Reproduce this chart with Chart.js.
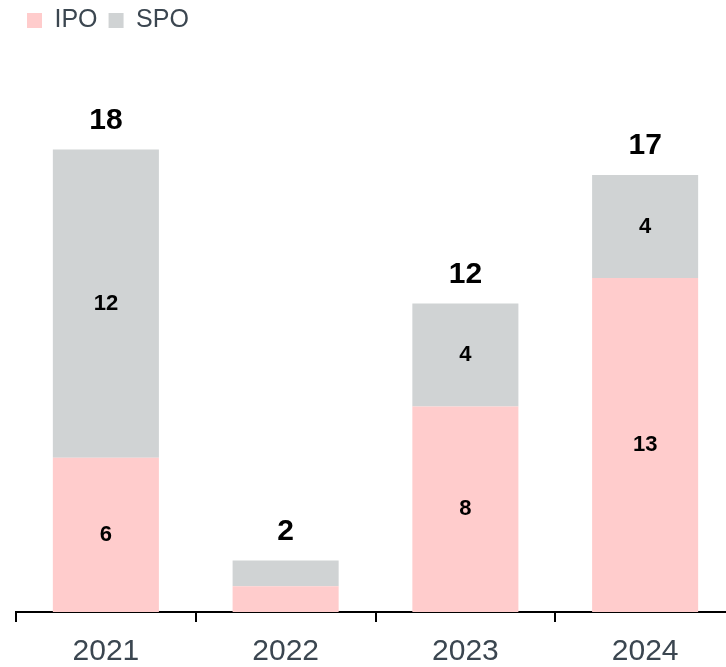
<!DOCTYPE html>
<html>
<head>
<meta charset="utf-8">
<script src="https://cdn.jsdelivr.net/npm/chart.js@4/dist/chart.umd.min.js"></script>
<style>
  html, body { margin: 0; padding: 0; background: #fff; overflow: hidden; }
  #wrap { width: 740px; height: 667px; position: relative; }
</style>
</head>
<body>
<div id="wrap"><canvas id="c"></canvas></div>
<script>
const categories = ['2021', '2022', '2023', '2024'];
const ipoValues = [6, 1, 8, 13];
const spoValues = [12, 1, 4, 4];
const totals = [18, 2, 12, 17];

const legendSpacer = {
  id: 'legendSpacer',
  beforeInit(chart) {
    const origFit = chart.legend.fit;
    chart.legend.fit = function () {
      origFit.bind(chart.legend)();
      this.height += 55;
    };
  }
};

const labelPlugin = {
  id: 'labels',
  afterDatasetsDraw(chart) {
    const ctx = chart.ctx;
    ctx.save();
    ctx.textAlign = 'center';
    ctx.textBaseline = 'middle';
    ctx.fillStyle = '#000';
    ctx.font = 'bold 22px "Liberation Sans", Arial, sans-serif';
    chart.data.datasets.forEach((ds, di) => {
      const meta = chart.getDatasetMeta(di);
      meta.data.forEach((el, i) => {
        const v = ds.data[i];
        if (v >= 2) {
          ctx.fillText(String(v), el.x, (el.y + el.base) / 2);
        }
      });
    });
    const last = chart.getDatasetMeta(chart.data.datasets.length - 1);
    ctx.font = 'bold 30px "Liberation Sans", Arial, sans-serif';
    last.data.forEach((el, i) => {
      ctx.fillText(String(totals[i]), el.x, el.y - 29);
    });
    ctx.restore();
  }
};

new Chart(document.getElementById('c'), {
  type: 'bar',
  data: {
    labels: categories,
    datasets: [
      { label: 'IPO', data: ipoValues, backgroundColor: '#FFCCCC', borderWidth: 0 },
      { label: 'SPO', data: spoValues, backgroundColor: '#D0D3D4', borderWidth: 0 }
    ]
  },
  options: {
    responsive: true,
    maintainAspectRatio: false,
    animation: false,
    layout: { padding: { left: 16, right: 5, top: -3, bottom: -15 } },
    plugins: {
      legend: {
        position: 'top',
        align: 'start',
        labels: {
          boxWidth: 15,
          boxHeight: 15,
          color: '#3B4650',
          font: { size: 25, family: '"Liberation Sans", Arial, sans-serif' },
          padding: 11
        }
      },
      tooltip: { enabled: false }
    },
    scales: {
      x: {
        stacked: true,
        grid: {
          display: true,
          drawOnChartArea: false,
          drawTicks: true,
          tickLength: 10,
          color: '#000',
          lineWidth: 2,
          offset: true
        },
        border: { display: true, color: '#000', width: 2 },
        ticks: {
          color: '#3B4650',
          font: { size: 30, lineHeight: 1, family: '"Liberation Sans", Arial, sans-serif' },
          padding: 15
        }
      },
      y: {
        stacked: true,
        display: false,
        min: 0,
        max: 20
      }
    },
    datasets: { bar: { categoryPercentage: 1, barPercentage: 0.59 } }
  },
  plugins: [legendSpacer, labelPlugin]
});
</script>
</body>
</html>
